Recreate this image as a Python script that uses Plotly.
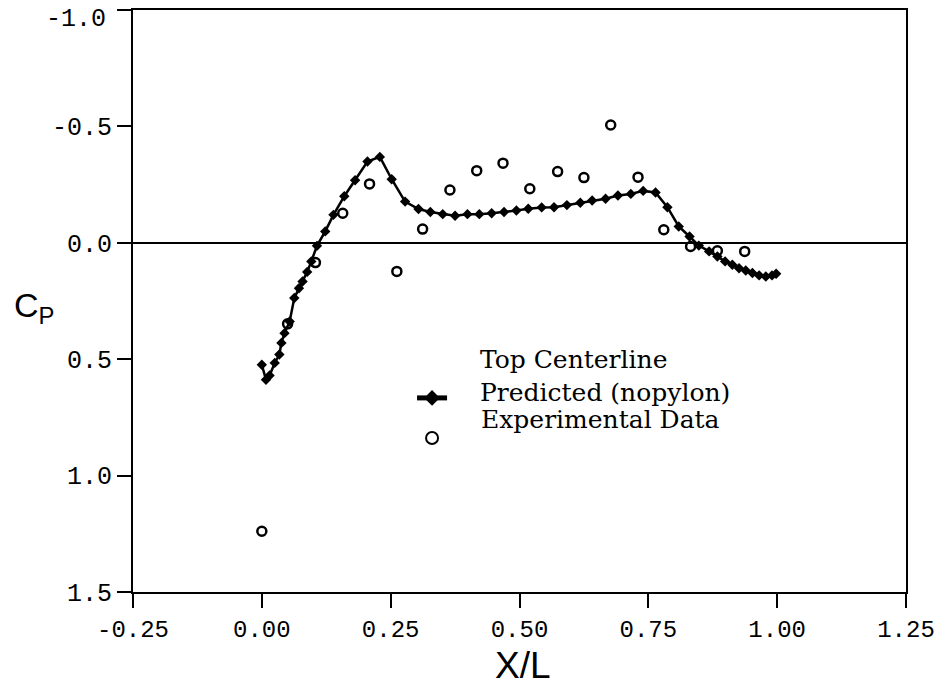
import plotly.graph_objects as go

# Predicted (no pylon) – Top Centerline
pred_x = [0.0, 0.008, 0.015, 0.025, 0.034, 0.038, 0.044, 0.054, 0.063, 0.072, 0.079, 0.088,
          0.096, 0.107, 0.123, 0.139, 0.16, 0.181, 0.205, 0.229, 0.252, 0.278, 0.304, 0.327,
          0.351, 0.375, 0.399, 0.422, 0.446, 0.47, 0.494, 0.517, 0.543, 0.567, 0.592, 0.618,
          0.641, 0.667, 0.691, 0.716, 0.74, 0.764, 0.787, 0.809, 0.83, 0.848, 0.868, 0.884,
          0.899, 0.913, 0.926, 0.939, 0.952, 0.965, 0.978, 0.99, 0.998]
pred_cp = [0.524, 0.588, 0.57, 0.516, 0.48, 0.43, 0.388, 0.338, 0.237, 0.195, 0.166, 0.125,
           0.08, 0.013, -0.049, -0.12, -0.2, -0.269, -0.349, -0.369, -0.273, -0.177, -0.145, -0.132,
           -0.123, -0.116, -0.123, -0.123, -0.127, -0.132, -0.139, -0.146, -0.152, -0.153, -0.162, -0.172,
           -0.182, -0.189, -0.203, -0.21, -0.223, -0.216, -0.153, -0.07, -0.027, 0.012, 0.037, 0.059,
           0.08, 0.094, 0.109, 0.119, 0.13, 0.14, 0.145, 0.14, 0.133]

# Experimental data
exp_x = [0.0, 0.05, 0.104, 0.157, 0.209, 0.262, 0.312, 0.365, 0.417, 0.468, 0.52, 0.574,
         0.625, 0.677, 0.73, 0.78, 0.832, 0.884, 0.937]
exp_cp = [1.239, 0.348, 0.085, -0.127, -0.253, 0.123, -0.059, -0.227, -0.31, -0.342, -0.232, -0.306,
          -0.28, -0.506, -0.282, -0.056, 0.016, 0.034, 0.037]

x_tickvals = [-0.25, 0.0, 0.25, 0.5, 0.75, 1.0, 1.25]
x_ticktext = ["-0.25", "0.00", "0.25", "0.50", "0.75", "1.00", "1.25"]
y_tickvals = [-1.0, -0.5, 0.0, 0.5, 1.0, 1.5]
y_ticktext = ["-1.0", "-0.5", "0.0", "0.5", "1.0", "1.5"]

legend_title = "Top Centerline"
series_names = ["Predicted (nopylon)", "Experimental Data"]

mono = "Liberation Mono, DejaVu Sans Mono, monospace"
serif = "DejaVu Serif, Liberation Serif, serif"
sans = "Liberation Sans, DejaVu Sans, sans-serif"

fig = go.Figure()
fig.add_trace(go.Scatter(
    x=pred_x, y=pred_cp, mode="lines+markers", name=" ",
    hovertemplate=series_names[0] + "<br>%{x}, %{y}<extra></extra>",
    line=dict(color="black", width=2.5),
    marker=dict(symbol="diamond", size=8, color="black"),
))
fig.add_trace(go.Scatter(
    x=exp_x, y=exp_cp, mode="markers", name="  ",
    hovertemplate=series_names[1] + "<br>%{x}, %{y}<extra></extra>",
    marker=dict(symbol="circle-open", size=9, color="black", line=dict(width=2.5, color="black")),
))

leg_font = dict(family=serif, size=25, color="black")
fig.update_layout(
    width=934, height=688,
    margin=dict(l=133, r=28, t=10, b=96),
    paper_bgcolor="white", plot_bgcolor="white",
    showlegend=True,
    legend=dict(
        x=0.361, y=0.3765, xanchor="left", yanchor="top",
        bgcolor="rgba(0,0,0,0)", borderwidth=0,
        font=dict(family=serif, size=28.5, color="black"),
        tracegroupgap=0, itemsizing="constant",
    ),
    annotations=[
        dict(text=legend_title, xref="paper", yref="paper", x=0.446, y=0.399,
             xanchor="left", yanchor="middle", showarrow=False, font=leg_font),
        dict(text=series_names[0], xref="paper", yref="paper", x=0.446, y=(592 - 392) / 582,
             xanchor="left", yanchor="middle", showarrow=False, font=leg_font),
        dict(text=series_names[1], xref="paper", yref="paper", x=0.448, y=(592 - 420) / 582,
             xanchor="left", yanchor="middle", showarrow=False, font=leg_font),
        dict(text=y_ticktext[0], xref="paper", yref="y", x=-0.0323, y=y_tickvals[0],
             xanchor="right", yanchor="middle", yshift=-9, showarrow=False,
             font=dict(family=mono, size=25, color="black")),
        dict(text="C<sub>P</sub>", xref="paper", yref="paper", x=-0.157, y=0.488,
             xanchor="left", yanchor="middle", showarrow=False,
             font=dict(family=sans, size=34, color="black")),
        dict(text="X/L", xref="paper", yref="paper", x=0.5045, y=-0.088,
             xanchor="center", yanchor="top", showarrow=False,
             font=dict(family=sans, size=37, color="black")),
    ],
)

fig.update_xaxes(
    range=[-0.25, 1.25], tickvals=x_tickvals, ticktext=x_ticktext,
    showgrid=False, zeroline=False, automargin=False, ticklabeloverflow="allow",
    showline=True, linecolor="black", linewidth=2, mirror=True,
    ticks="outside", ticklen=14, tickwidth=2, tickcolor="black",
    tickfont=dict(family=mono, size=24, color="black"),
)
fig.update_yaxes(
    range=[1.5, -1.0], tickvals=y_tickvals, ticktext=[""] + y_ticktext[1:],
    showgrid=False, zeroline=True, zerolinecolor="black", zerolinewidth=1.5,
    showline=True, linecolor="black", linewidth=2, mirror=True,
    automargin=False, ticklabeloverflow="allow",
    ticks="outside", ticklen=14, tickwidth=2, tickcolor="black",
    tickfont=dict(family=mono, size=25, color="black"),
)

fig.write_html("out.html")
